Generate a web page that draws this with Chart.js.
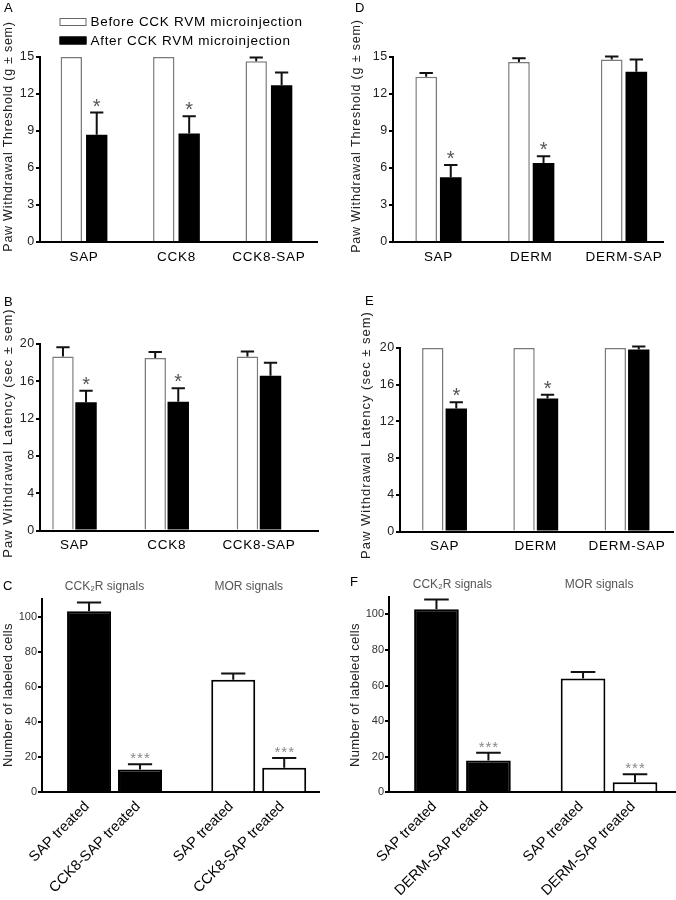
<!DOCTYPE html>
<html>
<head>
<meta charset="utf-8">
<script src="https://cdn.jsdelivr.net/npm/chart.js@4.4.1/dist/chart.umd.min.js"></script>
<style>
  body { margin: 0; width: 676px; height: 900px; background: #fff; position: relative; overflow: hidden; }
  canvas { position: absolute; }
</style>
</head>
<body>
<canvas id="chartA" width="338" height="280" style="left:0;top:0"></canvas>
<canvas id="chartD" width="338" height="280" style="left:338px;top:0"></canvas>
<canvas id="chartB" width="338" height="290" style="left:0;top:280px"></canvas>
<canvas id="chartE" width="338" height="290" style="left:338px;top:280px"></canvas>
<canvas id="chartC" width="338" height="330" style="left:0;top:570px"></canvas>
<canvas id="chartF" width="338" height="330" style="left:338px;top:570px"></canvas>
<script>
// ---- data (mean and sem) ----
const seriesNames = ['Before CCK RVM microinjection', 'After CCK RVM microinjection'];

// A: paw withdrawal threshold, CCK8 groups
const aCats = ['SAP', 'CCK8', 'CCK8-SAP'];
const aBefore = [15, 15, 14.65];
const aBeforeSem = [0, 0, 0.3];
const aAfter = [8.7, 8.8, 12.7];
const aAfterSem = [1.8, 1.4, 1.05];
const aStars = ['*', '*', ''];

// B: paw withdrawal latency, CCK8 groups
const bCats = ['SAP', 'CCK8', 'CCK8-SAP'];
const bBefore = [18.65, 18.5, 18.65];
const bBeforeSem = [1.0, 0.65, 0.55];
const bAfter = [13.75, 13.8, 16.6];
const bAfterSem = [1.25, 1.45, 1.4];
const bStars = ['*', '*', ''];

// D: paw withdrawal threshold, DERM groups
const dCats = ['SAP', 'DERM', 'DERM-SAP'];
const dBefore = [13.4, 14.6, 14.8];
const dBeforeSem = [0.3, 0.3, 0.25];
const dAfter = [5.25, 6.4, 13.8];
const dAfterSem = [1.0, 0.55, 1.0];
const dStars = ['*', '*', ''];

// E: paw withdrawal latency, DERM groups
const eCats = ['SAP', 'DERM', 'DERM-SAP'];
const eBefore = [20, 20, 20];
const eBeforeSem = [0, 0, 0];
const eAfter = [13.4, 14.5, 19.85];
const eAfterSem = [0.7, 0.4, 0.3];
const eStars = ['*', '*', ''];

// C: labeled cells, CCK8-SAP
const cGroups = ['CCK\u2082R signals', 'MOR signals'];
const cTreat = ['SAP treated', 'CCK8-SAP treated'];
const cSap = [103, 64];
const cSapSem = [5, 3.6];
const cTox = [13, 14];
const cToxSem = [3, 5.5];
const cStars = ['***', '***'];

// F: labeled cells, DERM-SAP
const fGroups = ['CCK\u2082R signals', 'MOR signals'];
const fTreat = ['SAP treated', 'DERM-SAP treated'];
const fSap = [102.8, 64];
const fSapSem = [5.5, 3.6];
const fTox = [17.8, 5.7];
const fToxSem = [4.4, 4.4];
const fStars = ['***', '***'];

const FONT = "'Liberation Sans', Arial, sans-serif";
Chart.defaults.font.family = FONT;

// error bars (upper whisker + cap) and significance marks
const errorBars = {
  id: 'errorBars',
  afterDatasetsDraw(chart, args, opts) {
    if (!opts.cap) return;
    const ctx = chart.ctx;
    const y = chart.scales.y;
    chart.data.datasets.forEach((ds, d) => {
      chart.getDatasetMeta(d).data.forEach((bar, i) => {
        const top = y.getPixelForValue(ds.data[i] + (ds.sem ? ds.sem[i] : 0));
        ctx.save();
        if (ds.sem && ds.sem[i]) {
          const half = bar.width * opts.cap / 2;
          ctx.strokeStyle = opts.color;
          ctx.lineWidth = opts.width;
          ctx.beginPath();
          ctx.moveTo(bar.x, bar.y);
          ctx.lineTo(bar.x, top);
          ctx.moveTo(bar.x - half, top);
          ctx.lineTo(bar.x + half, top);
          ctx.stroke();
        }
        if (ds.stars && ds.stars[i]) {
          ctx.font = opts.starFont;
          ctx.fillStyle = opts.starColor;
          ctx.letterSpacing = opts.starSpacing + 'px';
          ctx.textAlign = 'center';
          ctx.textBaseline = 'alphabetic';
          ctx.fillText(ds.stars[i], bar.x + opts.starSpacing / 2, top + opts.starDy);
        }
        ctx.restore();
      });
    });
  }
};

// free text: panel letters, axis titles, legend, rotated bar labels
const texts = {
  id: 'texts',
  beforeDraw(chart, args, opts) {
    chart.ctx.letterSpacing = (opts.tickSpacing || 0) + 'px';
  },
  afterDraw(chart, args, opts) {
    const ctx = chart.ctx;
    (opts.items || []).forEach(t => {
      ctx.save();
      ctx.font = t.font;
      ctx.fillStyle = t.color || '#111';
      ctx.letterSpacing = (t.spacing || 0) + 'px';
      ctx.textAlign = t.align || 'left';
      ctx.textBaseline = t.baseline || 'alphabetic';
      ctx.translate(t.x, t.y);
      if (t.rotate) ctx.rotate(t.rotate * Math.PI / 180);
      ctx.fillText(t.text, 0, 0);
      ctx.restore();
    });
    if (opts.legend) {
      const lg = opts.legend;
      chart.data.datasets.forEach((ds, i) => {
        const cy = lg.y + i * lg.gap;
        ctx.save();
        ctx.fillStyle = ds.backgroundColor;
        ctx.fillRect(lg.x, cy - 4, 27, 8);
        ctx.strokeStyle = ds.borderColor === '#000' ? '#000' : '#666';
        ctx.lineWidth = 1;
        ctx.strokeRect(lg.x + 0.5, cy - 3.5, 26, 7);
        ctx.font = lg.font;
        ctx.fillStyle = '#000';
        ctx.letterSpacing = lg.spacing + 'px';
        ctx.textBaseline = 'middle';
        ctx.fillText(ds.label, lg.x + 31, cy + 0.5);
        ctx.restore();
      });
    }
    if (opts.barLabels) {
      const bl = opts.barLabels;
      const base = chart.scales.y.getPixelForValue(0);
      chart.data.datasets.forEach((ds, d) => {
        chart.getDatasetMeta(d).data.forEach(bar => {
          ctx.save();
          ctx.translate(bar.x + bl.dx, base + bl.dy);
          ctx.rotate(-Math.PI / 4);
          ctx.font = bl.font;
          ctx.fillStyle = '#000';
          ctx.textAlign = 'right';
          ctx.textBaseline = 'middle';
          ctx.fillText(ds.label, 0, 0);
          ctx.restore();
        });
      });
      const xs = chart.scales.x;
      chart.data.labels.forEach((v, i) => {
        ctx.save();
        ctx.font = bl.groupFont;
        ctx.fillStyle = '#555';
        ctx.textAlign = 'center';
        ctx.textBaseline = 'middle';
        ctx.fillText(bl.groups[i], xs.getPixelForValue(v) + bl.groupDx, bl.groupY);
        ctx.restore();
      });
    }
  }
};

Chart.register(errorBars, texts);

// panels A, B, D, E: before/after grouped bars
function topPanel(id, p) {
  return new Chart(document.getElementById(id), {
    type: 'bar',
    data: {
      labels: p.cats.map((c, i) => i + 1),
      datasets: [
        { label: seriesNames[0], data: p.before, sem: p.beforeSem,
          backgroundColor: '#fff', borderColor: '#7a7a7a', borderWidth: 1.5 },
        { label: seriesNames[1], data: p.after, sem: p.afterSem, stars: p.stars,
          backgroundColor: '#000', borderColor: '#000', borderWidth: 0 }
      ]
    },
    options: {
      responsive: false,
      animation: false,
      events: [],
      layout: { padding: p.pad },
      datasets: { bar: { categoryPercentage: p.cp, barPercentage: p.bp } },
      plugins: {
        legend: { display: false },
        tooltip: { enabled: false },
        errorBars: { cap: 0.62, color: '#111', width: 2, starFont: '20px ' + FONT,
                     starColor: '#555', starSpacing: 0, starDy: 0 },
        texts: { tickSpacing: 0.7, items: p.texts, legend: p.legend }
      },
      scales: {
        x: {
          type: 'linear', min: p.xMin, max: p.xMax, offset: false,
          grid: { display: false, drawTicks: false },
          border: { color: '#000', width: 2 },
          ticks: { stepSize: 1, includeBounds: false, autoSkip: false, maxRotation: 0,
                   padding: 7, color: '#000', font: { size: 13.5 },
                   callback: v => p.cats[Math.round(v) - 1] || '' },
          afterFit: s => { s.height = p.xh; }
        },
        y: {
          min: 0, max: p.yMax,
          grid: { drawOnChartArea: false, tickLength: 4, color: '#000', lineWidth: 2 },
          border: { color: '#000', width: 2 },
          ticks: { stepSize: p.yStep, padding: 1, color: '#222', font: { size: 12.5 } },
          afterFit: s => { s.width = p.yw; }
        }
      }
    }
  });
}

// panels C, F: labeled cell counts
function cellPanel(id, p) {
  return new Chart(document.getElementById(id), {
    type: 'bar',
    data: {
      labels: p.groups.map((g, i) => i + 1),
      datasets: [
        { label: p.treat[0], data: p.sap, sem: p.sapSem,
          backgroundColor: ['#000', '#fff'], borderColor: '#000', borderWidth: 2 },
        { label: p.treat[1], data: p.tox, sem: p.toxSem, stars: p.stars,
          backgroundColor: ['#000', '#fff'], borderColor: '#000', borderWidth: 2 }
      ]
    },
    options: {
      responsive: false,
      animation: false,
      events: [],
      layout: { padding: p.pad },
      datasets: { bar: { categoryPercentage: p.cp, barPercentage: p.bp } },
      plugins: {
        legend: { display: false },
        tooltip: { enabled: false },
        errorBars: { cap: 0.55, color: '#111', width: 2, starFont: '15px ' + FONT,
                     starColor: '#888', starSpacing: 1, starDy: -1 },
        texts: {
          items: p.texts,
          barLabels: { dx: -2, dy: 12, font: '14.5px ' + FONT, groups: p.groups,
                       groupFont: '12px ' + FONT, groupDx: -10, groupY: p.groupY }
        }
      },
      scales: {
        x: {
          type: 'linear', min: p.xMin, max: p.xMax, offset: false,
          grid: { display: false, drawTicks: false },
          border: { color: '#000', width: 2 },
          ticks: { display: false, stepSize: 1, includeBounds: false },
          afterFit: s => { s.height = p.xh; }
        },
        y: {
          min: 0, max: 110,
          grid: { drawOnChartArea: false, tickLength: 4, color: '#000', lineWidth: 2 },
          border: { color: '#000', width: 2 },
          ticks: { stepSize: 20, includeBounds: false, padding: 1, color: '#333', font: { size: 11 } },
          afterFit: s => { s.width = p.yw; }
        }
      }
    }
  });
}

const threshTitle = 'Paw Withdrawal Threshold (g \u00b1 sem)';
const latTitle = 'Paw Withdrawal Latency (sec \u00b1 sem)';
const cellTitle = 'Number of labeled cells';
const letter = (t, x, y) => ({ text: t, x, y, font: '13px ' + FONT, color: '#000' });
const yTitle = (t, x, y, size, sp) => ({ text: t, x, y, rotate: -90, align: 'center', baseline: 'middle',
                                        font: size + 'px ' + FONT, spacing: sp, color: '#222' });

topPanel('chartA', {
  cats: aCats, before: aBefore, beforeSem: aBeforeSem, after: aAfter, afterSem: aAfterSem, stars: aStars,
  pad: { top: 57, right: 21, left: 0, bottom: 0 }, yw: 40, xh: 38, xMin: 0.524, xMax: 3.52,
  cp: 0.55, bp: 0.84, yMax: 15, yStep: 3,
  texts: [letter('A', 4, 12), yTitle(threshTitle, 9, 136.5, 12.5, 0.75)],
  legend: { x: 59.5, y: 22, gap: 18.5, font: '13.5px ' + FONT, spacing: 0.7 }
});

topPanel('chartD', {
  cats: dCats, before: dBefore, beforeSem: dBeforeSem, after: dAfter, afterSem: dAfterSem, stars: dStars,
  pad: { top: 57, right: 13, left: 0, bottom: 0 }, yw: 55, xh: 38, xMin: 0.51, xMax: 3.42,
  cp: 0.53, bp: 0.88, yMax: 15, yStep: 3,
  texts: [letter('D', 17, 12), yTitle(threshTitle, 19, 136, 12.5, 0.85)]
});

topPanel('chartB', {
  cats: bCats, before: bBefore, beforeSem: bBeforeSem, after: bAfter, afterSem: bAfterSem, stars: bStars,
  pad: { top: 64, right: 20, left: 0, bottom: 0 }, yw: 40, xh: 39.5, xMin: 0.626, xMax: 3.64,
  cp: 0.5, bp: 0.93, yMax: 20, yStep: 4,
  texts: [letter('B', 4, 26), yTitle(latTitle, 8.5, 153, 13, 1.05)]
});

topPanel('chartE', {
  cats: eCats, before: eBefore, beforeSem: eBeforeSem, after: eAfter, afterSem: eAfterSem, stars: eStars,
  pad: { top: 68, right: 3, left: 0, bottom: 0 }, yw: 62, xh: 38.5, xMin: 0.512, xMax: 3.504,
  cp: 0.515, bp: 0.91, yMax: 20, yStep: 4,
  texts: [letter('E', 27, 25), yTitle(latTitle, 28, 155, 13, 1.0)]
});

cellPanel('chartC', {
  groups: cGroups, treat: cTreat, sap: cSap, sapSem: cSapSem, tox: cTox, toxSem: cToxSem, stars: cStars,
  pad: { top: 29, right: 19, left: 0, bottom: 0 }, yw: 42, xh: 107.7, xMin: 0.497, xMax: 2.418,
  cp: 0.707, bp: 0.863, groupY: 17,
  texts: [letter('C', 3, 20), yTitle(cellTitle, 8.5, 125, 13, 0.35)]
});

cellPanel('chartF', {
  groups: fGroups, treat: fTreat, sap: fSap, sapSem: fSapSem, tox: fTox, toxSem: fToxSem, stars: fStars,
  pad: { top: 26.5, right: 1, left: 0, bottom: 0 }, yw: 51, xh: 107.7, xMin: 0.499, xMax: 2.45,
  cp: 0.709, bp: 0.86, groupY: 15,
  texts: [letter('F', 12, 16), yTitle(cellTitle, 17, 125, 13, 0.35)]
});
</script>
</body>
</html>
